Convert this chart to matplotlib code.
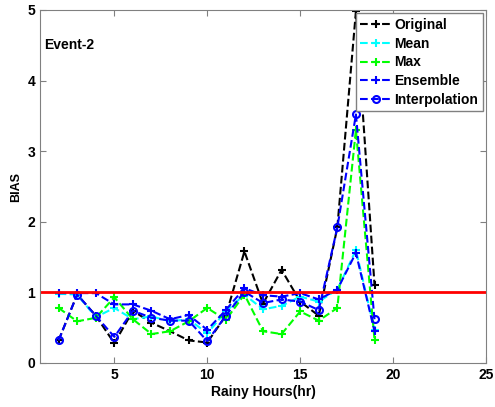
import matplotlib.pyplot as plt

plt.rcParams['font.family'] = ['Liberation Sans', 'DejaVu Sans']
plt.rcParams['font.weight'] = 'bold'

hours = list(range(2, 20))
original = [0.32, 0.97, 0.67, 0.28, 0.74, 0.57, 0.45, 0.32, 0.29, 0.67, 1.58, 0.84, 1.32, 0.87, 0.67, 1.92, 4.98, 1.11]
mean = [0.98, 0.97, 0.65, 0.78, 0.62, 0.66, 0.59, 0.62, 0.42, 0.73, 0.97, 0.76, 0.81, 0.94, 0.87, 1.04, 1.60, 0.47]
maxv = [0.78, 0.59, 0.64, 0.93, 0.62, 0.41, 0.45, 0.59, 0.78, 0.61, 0.97, 0.45, 0.41, 0.73, 0.60, 0.78, 3.30, 0.33]
ensemble = [0.99, 0.99, 0.99, 0.83, 0.83, 0.74, 0.62, 0.68, 0.47, 0.75, 1.06, 0.96, 0.94, 0.99, 0.90, 1.04, 1.56, 0.45]
interp = [0.32, 0.97, 0.67, 0.37, 0.74, 0.64, 0.60, 0.60, 0.31, 0.67, 1.01, 0.85, 0.90, 0.87, 0.75, 1.92, 3.52, 0.62]

fig = plt.figure(figsize=(4.95, 4.07), dpi=100)
ax = fig.add_axes([40 / 495, 44 / 407, 446 / 495, 353 / 407])

kw = dict(linestyle='--', linewidth=1.5, markersize=6, markeredgewidth=1.5)
ax.plot(hours, original, color='k', marker='+', label='Original', **kw)
ax.plot(hours, mean, color='#00ffff', marker='+', label='Mean', **kw)
ax.plot(hours, maxv, color='#00ff00', marker='+', label='Max', **kw)
ax.plot(hours, ensemble, color='#0000ff', marker='+', label='Ensemble', **kw)
kw['markersize'] = 5
ax.plot(hours, interp, color='#0000ff', marker='o', markerfacecolor='none', label='Interpolation', **kw)
ax.axhline(1, color='red', linewidth=2)

ax.set_xlim(1, 25)
ax.set_ylim(0, 5)
ax.set_xticks([5, 10, 15, 20, 25])
ax.set_yticks([0, 1, 2, 3, 4, 5])
ax.tick_params(direction='in', top=True, right=True, labelsize=10, color='#808080', length=4)
for s in ax.spines.values():
    s.set_color('#808080')
ax.set_xlabel('Rainy Hours(hr)', fontsize=10, fontweight='bold', labelpad=2)
ax.set_ylabel('BIAS', fontsize=9, fontweight='bold', labelpad=4)
ax.text(1.2, 4.5, 'Event-2', fontsize=10, fontweight='bold', va='center')

leg = ax.legend(loc='upper right', fontsize=10, handlelength=2.3, handletextpad=0.2,
                labelspacing=0.35, borderpad=0.3, fancybox=False, framealpha=1,
                borderaxespad=0.25)
leg.get_frame().set_edgecolor('#808080')

fig.savefig('out.png', dpi=100)
